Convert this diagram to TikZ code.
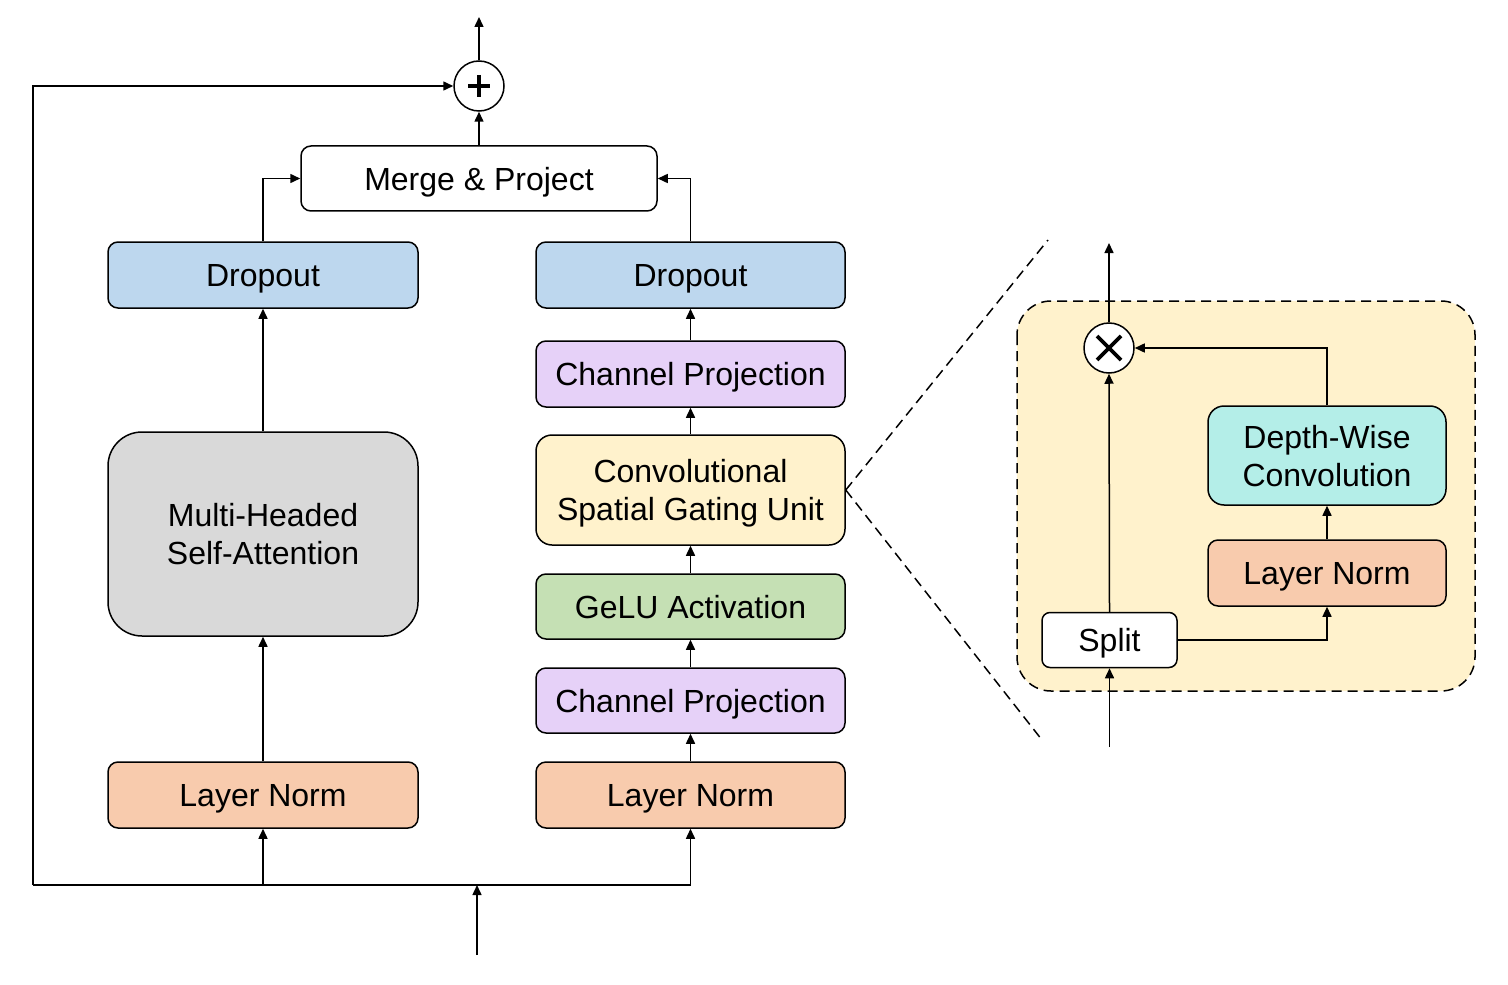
\documentclass[tikz,border=0pt]{standalone}
\usepackage{fontspec}
\setmainfont{Liberation Sans}
\usetikzlibrary{arrows.meta,positioning,calc}
\definecolor{cdrop}{HTML}{BDD7EE}
\definecolor{cproj}{HTML}{E6D1F8}
\definecolor{cgate}{HTML}{FFF2CC}
\definecolor{cgelu}{HTML}{C5E0B4}
\definecolor{cnorm}{HTML}{F8CBAD}
\definecolor{cmhsa}{HTML}{D9D9D9}
\definecolor{cdw}{HTML}{B4EEE8}
\begin{document}
\begin{tikzpicture}[x=0.5pt,y=-0.5pt,
  box/.style={draw, rounded corners=5pt, line width=0.75pt, inner sep=0pt, align=center,
    font=\fontsize{16}{19}\selectfont, text depth=0pt, minimum width=155pt, minimum height=33pt},
  opcirc/.style={draw, circle, line width=0.75pt, fill=white, minimum size=25pt, inner sep=0pt},
  conn/.style={line width=0.75pt, -{Triangle[length=5pt,width=4.5pt]}},
  plainline/.style={line width=0.75pt},
  zoomline/.style={line width=0.75pt, dash pattern=on 5pt off 3pt}]
\useasboundingbox (0,0) rectangle (1508,984);

% ---- left column
\node[box, fill=cdrop] (dropL) at (263,275) {Dropout};
\node[box, fill=cmhsa, minimum height=102pt, rounded corners=17pt] (mhsa) at (263,534) {Multi-Headed\\Self-Attention};
\node[box, fill=cnorm] (lnL) at (263,795) {Layer Norm};

% ---- right column
\node[box, fill=cdrop, minimum width=154.5pt] (dropR) at (690.5,275) {Dropout};
\node[box, fill=cproj, minimum width=154.5pt] (cp2) at (690.5,374) {Channel Projection};
\node[box, fill=cgate, minimum width=154.5pt, minimum height=55pt, rounded corners=8pt] (csgu) at (690.5,490) {Convolutional\\Spatial Gating Unit};
\node[box, fill=cgelu, minimum width=154.5pt, minimum height=32.5pt] (gelu) at (690.5,606.5) {GeLU Activation};
\node[box, fill=cproj, minimum width=154.5pt, minimum height=32.5pt] (cp1) at (690.5,700.5) {Channel Projection};
\node[box, fill=cnorm, minimum width=154.5pt] (lnR) at (690.5,795) {Layer Norm};

% ---- merge and residual
\node[box, fill=white, minimum width=178pt, minimum height=32.5pt] (merge) at (479,178.5) {Merge \& Project};
\node[opcirc] (plus) at (479,86) {};
\draw[line width=1.7pt] ([shift={(-11,0)}]plus.center) -- ([shift={(11,0)}]plus.center);
\draw[line width=1.7pt] ([shift={(0,-11)}]plus.center) -- ([shift={(0,11)}]plus.center);

\coordinate (out) at (479,17);
\coordinate (in) at (477,955);
\coordinate (junc) at (477,885);
\coordinate (fbB) at (33,885);
\coordinate (fbT) at (33,86);
\coordinate (jL) at (263,885);
\coordinate (jR) at (690.5,885);

\draw[conn] (plus.north) -- (out);
\draw[conn] (merge.north) -- (plus.south);
\draw[conn] (dropL.north) |- (merge.west);
\draw[conn] (dropR.north) |- (merge.east);
\draw[conn] (mhsa.north) -- (dropL.south);
\draw[conn] (lnL.north) -- (mhsa.south);
\draw[conn] (cp2.north) -- (dropR.south);
\draw[conn] (csgu.north) -- (cp2.south);
\draw[conn] (gelu.north) -- (csgu.south);
\draw[conn] (cp1.north) -- (gelu.south);
\draw[conn] (lnR.north) -- (cp1.south);
\draw[conn] (in) -- (junc);
\draw[plainline] (jR) -- (fbB);
\draw[conn] (fbB) -- (fbT) -- (plus.west);
\draw[conn] (jL) -- (lnL.south);
\draw[conn] (jR) -- (lnR.south);

% ---- zoom lines
\coordinate (zT) at (1048,240);
\coordinate (zB) at (1042,740);
\draw[zoomline] (csgu.east) -- (zT);
\draw[zoomline] (csgu.east) -- (zB);

% ---- detail panel
\draw[zoomline, fill=cgate, rounded corners=17pt] (1017,301) rectangle (1475,691);
\node[opcirc] (times) at (1109,348) {};
\draw[line width=1.9pt] ([shift={(-12,-12)}]times.center) -- ([shift={(12,12)}]times.center);
\draw[line width=1.9pt] ([shift={(-12,12)}]times.center) -- ([shift={(12,-12)}]times.center);
\node[box, fill=cdw, minimum width=119pt, minimum height=49.5pt, rounded corners=8pt] (dw) at (1327,455.5) {Depth-Wise\\Convolution};
\node[box, fill=cnorm, minimum width=119pt] (ln3) at (1327,573) {Layer Norm};
\node[box, fill=white, minimum width=67.5pt, minimum height=27.5pt, rounded corners=4pt] (split) at (1109.5,640) {Split};
\coordinate (in2) at (1109.5,747);
\coordinate (out2) at (1109,243);

\draw[conn] (in2) -- (split.south);
\draw[conn] (split.east) -| (ln3.south);
\draw[conn] (ln3.north) -- (dw.south);
\draw[conn] (dw.north) |- (times.east);
\draw[conn] (split.north) -- (times.south);
\draw[conn] (times.north) -- (out2);
\end{tikzpicture}
\end{document}
